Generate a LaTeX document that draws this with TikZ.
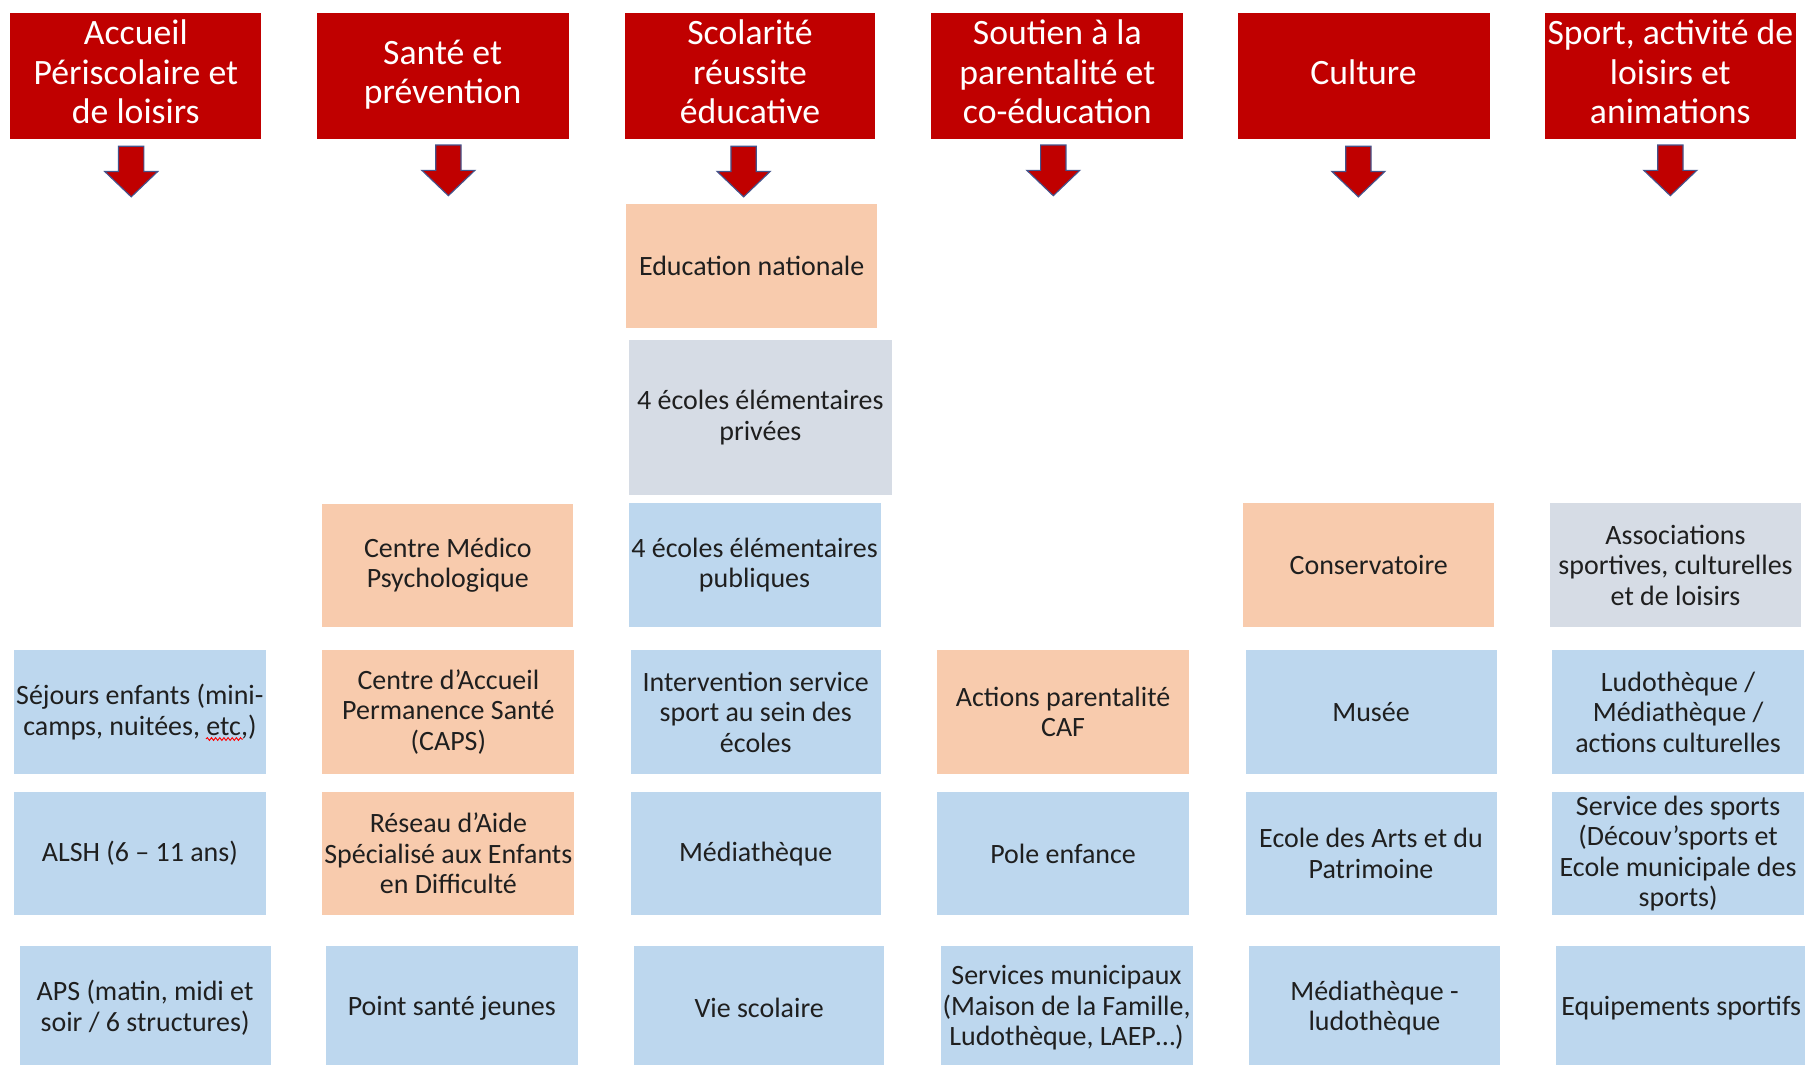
\documentclass[tikz,border=0pt]{standalone}
\usepackage{fontspec}
\setmainfont{Carlito}
\usetikzlibrary{decorations.pathmorphing}
\definecolor{hdred}{HTML}{C00000}
\definecolor{peach}{HTML}{F8CBAD}
\definecolor{lblue}{HTML}{BDD7EE}
\definecolor{lgrey}{HTML}{D6DCE5}
\definecolor{arrowedge}{HTML}{44548C}
\definecolor{txt}{HTML}{1F1F1F}
\newcommand{\hs}{\rule{0pt}{25pt}}
\newcommand{\hd}{\rule[-11pt]{0pt}{11pt}}
\tikzset{
  hdr/.style={fill=hdred, text=white, inner sep=0pt, align=center,
    minimum width=218pt, minimum height=110pt, font=\fontsize{31}{34}\selectfont},
  cbox/.style={inner sep=0pt, align=center, minimum width=218pt,
    minimum height=107pt, text=txt, font=\fontsize{24.3}{26.5}\selectfont},
  peachbox/.style={cbox, fill=peach},
  bluebox/.style={cbox, fill=lblue},
  greybox/.style={cbox, fill=lgrey},
  blockarrow/.style={fill=hdred, draw=arrowedge, line width=1pt, line join=miter},
}
\newcommand{\blockarr}[2]{%
  \draw[blockarrow] (#1-11,#2) -- (#1+11,#2) -- (#1+11,#2+22) -- (#1+23,#2+22)
    -- (#1,#2+44) -- (#1-23,#2+22) -- (#1-11,#2+22) -- cycle;}
\begin{document}
\begin{tikzpicture}[x=1pt,y=-1pt]
\useasboundingbox (0,0) rectangle (1568,925);
\clip (0,0) rectangle (1568,925);
\fill[white] (0,0) rectangle (1568,925);

% headers
\node[hdr] (h1) at (118,66) {\hs Accueil\\Périscolaire et\\de loisirs\hd};
\node[hdr, minimum width=219pt] (h2) at (384.5,66) {\hs Santé et\\prévention\hd};
\node[hdr, minimum width=217pt] (h3) at (651.5,66) {\hs Scolarité\\réussite\\éducative\hd};
\node[hdr, minimum width=219pt] (h4) at (918.5,66) {\hs Soutien à la\\parentalité et\\co-éducation\hd};
\node[hdr, minimum width=219pt] (h5) at (1184.5,66) {\hs Culture\hd};
\node[hdr] (h6) at (1451,66) {\hs Sport, activité de\\loisirs et\\animations\hd};

% block arrows
\blockarr{114}{127}
\blockarr{389.5}{126}
\blockarr{646}{127}
\blockarr{915}{126}
\blockarr{1180}{127}
\blockarr{1451}{126}

% column 1
\node[bluebox, minimum width=219pt] (sej) at (121.5,618.5) {Séjours enfants (mini-\\camps, nuitées, etc,)};
\node[bluebox, minimum width=219pt] (alsh) at (121.5,741.5) {ALSH (6 – 11 ans)};
\node[bluebox] (aps) at (126,875.5) {APS (matin, midi et\\soir / 6 structures)};
\draw[red, line width=0.8pt, decorate, decoration={snake, amplitude=1.2pt, segment length=3.6pt}]
  (179,642) -- (211,642);

% column 2
\node[peachbox] (cmp) at (389,491) {Centre Médico\\Psychologique};
\node[peachbox, minimum width=219pt] (caps) at (389.5,618.5) {Centre d’Accueil\\Permanence Santé\\(CAPS)};
\node[peachbox, minimum width=219pt] (rased) at (389.5,741.5) {Réseau d’Aide\\Spécialisé aux Enfants\\en Difficulté};
\node[bluebox, minimum width=219pt] (psj) at (392.5,875.5) {Point santé jeunes};

% column 3
\node[peachbox, minimum height=108pt] (en) at (653,231) {Education nationale};
\node[greybox, minimum width=229pt, minimum height=135pt] (priv) at (660.5,362.5) {4 écoles élémentaires\\privées};
\node[bluebox, minimum width=219pt, minimum height=108pt] (pub) at (655.5,491) {4 écoles élémentaires\\publiques};
\node[bluebox, minimum width=217pt] (interv) at (656.5,618.5) {Intervention service\\sport au sein des\\écoles};
\node[bluebox, minimum width=217pt] (med) at (656.5,741.5) {Médiathèque};
\node[bluebox, minimum width=217pt] (vie) at (659.5,875.5) {Vie scolaire};

% column 4
\node[peachbox, minimum width=219pt] (caf) at (923.5,618.5) {Actions parentalité\\CAF};
\node[bluebox, minimum width=219pt] (pole) at (923.5,741.5) {Pole enfance};
\node[bluebox, minimum width=219pt] (serv) at (926.5,875.5) {Services municipaux\\(Maison de la Famille,\\Ludothèque, LAEP…)};

% column 5
\node[peachbox, minimum height=108pt] (cons) at (1189,491) {Conservatoire};
\node[bluebox] (musee) at (1191,618.5) {Musée};
\node[bluebox] (arts) at (1191,741.5) {Ecole des Arts et du\\Patrimoine};
\node[bluebox] (medludo) at (1194,875.5) {Médiathèque -\\ludothèque};

% column 6
\node[greybox, minimum height=108pt] (assoc) at (1455.5,491) {Associations\\sportives, culturelles\\et de loisirs};
\node[bluebox, minimum width=219pt] (ludo) at (1457.75,618.5) {Ludothèque /\\Médiathèque /\\actions culturelles};
\node[bluebox, minimum width=219pt] (sports) at (1457.75,741.5) {Service des sports\\(Découv’sports et\\Ecole municipale des\\sports)};
\node[bluebox] (equip) at (1460.5,875.5) {Equipements sportifs};
\end{tikzpicture}
\end{document}
